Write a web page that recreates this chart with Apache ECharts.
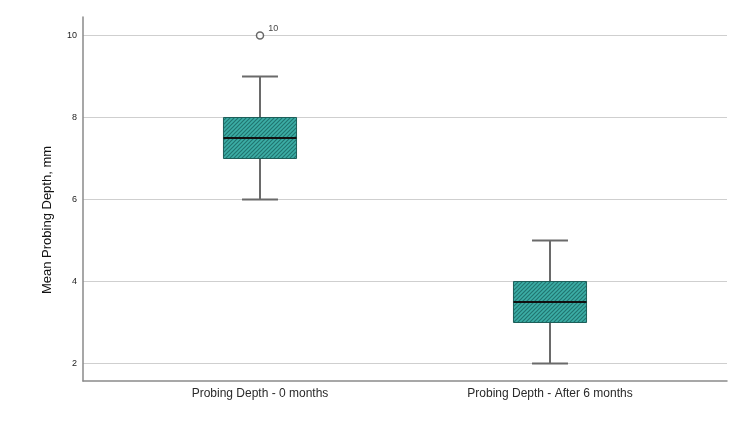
<!DOCTYPE html>
<html>
<head>
<meta charset="utf-8">
<script src="https://cdn.jsdelivr.net/npm/echarts@6/dist/echarts.min.js"></script>
<style>
  html, body { margin: 0; padding: 0; background: #fff; }
  #chart { width: 750px; height: 425px; }
</style>
</head>
<body>
<div id="chart"></div>
<script>
const categories = ['Probing Depth - 0 months', 'Probing Depth - After 6 months']
const lowWhisker = [6, 2]
const q1 = [7, 3]
const median = [7.5, 3.5]
const q3 = [8, 4]
const highWhisker = [9, 5]
const outliers = [[0, 10]]
const outlierLabels = ['10']
const yTicks = [2, 4, 6, 8, 10]

const font = 'Arial, "Liberation Sans", sans-serif'

// hatch pattern for the boxes
function makeHatch () {
  const s = 4
  const c = document.createElement('canvas')
  c.width = s
  c.height = s
  const ctx = c.getContext('2d')
  ctx.fillStyle = '#3caea6'
  ctx.fillRect(0, 0, s, s)
  ctx.strokeStyle = '#217570'
  ctx.lineWidth = 1.2
  ctx.beginPath()
  ctx.moveTo(-1, 1); ctx.lineTo(1, -1)
  ctx.moveTo(0, s); ctx.lineTo(s, 0)
  ctx.moveTo(s - 1, s + 1); ctx.lineTo(s + 1, s - 1)
  ctx.stroke()
  return c
}
const hatch = makeHatch()

const boxData = categories.map((c, i) => [i, lowWhisker[i], q1[i], median[i], q3[i], highWhisker[i]])

function renderBox (params, api) {
  const i = api.value(0)
  const band = api.size([1, 0])[0]
  const boxW = band * 0.252
  const capW = band * 0.124
  const pLow = api.coord([i, api.value(1)])
  const pQ1 = api.coord([i, api.value(2)])
  const pMed = api.coord([i, api.value(3)])
  const pQ3 = api.coord([i, api.value(4)])
  const pHigh = api.coord([i, api.value(5)])
  const x = pMed[0]
  const whisker = { stroke: '#6a6a6a', lineWidth: 2 }
  return {
    type: 'group',
    children: [
      { type: 'line', shape: { x1: x, y1: pHigh[1], x2: x, y2: pQ3[1] }, style: whisker },
      { type: 'line', shape: { x1: x, y1: pQ1[1], x2: x, y2: pLow[1] }, style: whisker },
      { type: 'line', shape: { x1: x - capW / 2, y1: pHigh[1], x2: x + capW / 2, y2: pHigh[1] }, style: whisker },
      { type: 'line', shape: { x1: x - capW / 2, y1: pLow[1], x2: x + capW / 2, y2: pLow[1] }, style: whisker },
      {
        type: 'rect',
        shape: { x: x - boxW / 2, y: pQ3[1], width: boxW, height: pQ1[1] - pQ3[1] },
        style: { fill: { image: hatch, repeat: 'repeat' }, stroke: '#1d5f5a', lineWidth: 1 }
      },
      { type: 'line', shape: { x1: x - boxW / 2, y1: pMed[1], x2: x + boxW / 2, y2: pMed[1] }, style: { stroke: '#111', lineWidth: 2 } }
    ]
  }
}

const chart = echarts.init(document.getElementById('chart'))
const yMin = 1.573
const yMax = 10.451

const option = {
  animation: false,
  grid: [
    { left: 83, right: 23, top: 17, bottom: 44 },
    { left: 115, right: 55, top: 17, bottom: 44 }
  ],
  xAxis: [
    {
      gridIndex: 0,
      type: 'value',
      min: 0,
      max: 1,
      axisLine: { show: true, lineStyle: { color: '#8a8a8a', width: 1.5 } },
      axisTick: { show: false },
      axisLabel: { show: false },
      splitLine: { show: false }
    },
    {
      gridIndex: 1,
      type: 'category',
      data: categories,
      axisLine: { show: false },
      axisTick: { show: false },
      axisLabel: { fontFamily: font, fontSize: 12, color: '#2a2a2a', margin: 7 },
      splitLine: { show: false }
    }
  ],
  yAxis: [
    {
      gridIndex: 0,
      type: 'value',
      min: yMin,
      max: yMax,
      axisLine: { show: true, lineStyle: { color: '#8a8a8a', width: 1.5 } },
      axisTick: { show: false, customValues: yTicks },
      axisLabel: { customValues: yTicks, fontFamily: font, fontSize: 9, color: '#222', margin: 6 },
      splitLine: { show: true, lineStyle: { color: '#cfcfcf', width: 1 } }
    },
    {
      gridIndex: 1,
      type: 'value',
      min: yMin,
      max: yMax,
      show: false
    }
  ],
  graphic: [{
    type: 'text',
    x: 47,
    y: 220,
    rotation: Math.PI / 2,
    style: {
      text: 'Mean Probing Depth, mm',
      fontFamily: font,
      fontSize: 13,
      fill: '#111',
      align: 'center',
      verticalAlign: 'middle'
    }
  }],
  series: [
    {
      type: 'custom',
      xAxisIndex: 1,
      yAxisIndex: 1,
      renderItem: renderBox,
      data: boxData,
      encode: { x: 0, y: [1, 2, 3, 4, 5] },
      z: 3
    },
    {
      type: 'scatter',
      xAxisIndex: 1,
      yAxisIndex: 1,
      data: outliers,
      symbol: 'circle',
      symbolSize: 7,
      itemStyle: { color: '#fff', borderColor: '#444', borderWidth: 1.5 },
      label: {
        show: true,
        position: 'right',
        offset: [-1, -7],
        fontFamily: font,
        fontSize: 9,
        color: '#111',
        formatter: p => outlierLabels[p.dataIndex]
      },
      z: 4
    }
  ]
}

chart.setOption(option)
</script>
</body>
</html>
